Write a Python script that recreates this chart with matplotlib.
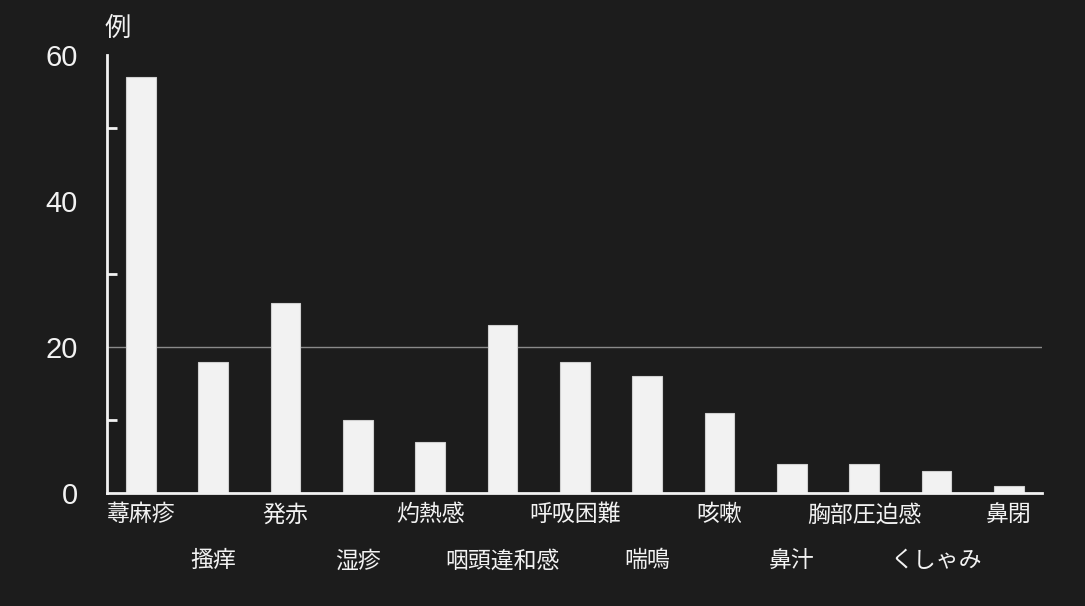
import matplotlib.pyplot as plt

plt.rcParams['font.family'] = ['Noto Sans CJK JP', 'DejaVu Sans']

symptoms = ["蕁麻疹", "搔痒", "発赤", "湿疹", "灼熱感", "咽頭違和感", "呼吸困難",
            "喘鳴", "咳嗽", "鼻汁", "胸部圧迫感", "くしゃみ", "鼻閉"]
cases = [57, 18, 26, 10, 7, 23, 18, 16, 11, 4, 4, 3, 1]
y_ticks = [0, 20, 40, 60]
y_minor = [10, 30, 50]

bg = "#1c1c1c"
fg = "#f2f2f2"

fig = plt.figure(figsize=(10.85, 6.06), dpi=100, facecolor=bg)
ax = fig.add_axes([0.0986, 0.1865, 0.862, 0.7225], facecolor=bg)

x = list(range(len(symptoms)))
ax.axhline(20, color="#8a8a8a", lw=1.0, zorder=1)
ax.bar(x, cases, width=0.41, color=fg, edgecolor="#d0d0d0", lw=0.8, zorder=2)

ax.set_xlim(-0.47, len(symptoms) - 0.54)
ax.set_ylim(0, 60)

for s in ["top", "right"]:
    ax.spines[s].set_visible(False)
for s in ["left", "bottom"]:
    ax.spines[s].set_color(fg)
    ax.spines[s].set_linewidth(2)

ax.set_yticks(y_ticks)
ax.set_yticklabels([str(v) for v in y_ticks], fontsize=21, color=fg, family="Liberation Sans")
ax.set_yticks(y_minor, minor=True)
ax.tick_params(axis="y", which="both", direction="in", length=7, width=2, color=fg, pad=21)
ax.tick_params(axis="y", which="major", length=0)

ax.set_xticks([])
for i, name in enumerate(symptoms):
    yoff = -0.05 if i % 2 == 0 else -0.155
    ax.text(i, yoff, name, transform=ax.get_xaxis_transform(), ha="center", va="center",
            fontsize=16.5, color=fg)

ax.text(0.012, 1.06, "例", transform=ax.transAxes, ha="center", va="center",
        fontsize=19, color=fg)

plt.savefig("out.png", dpi=100, facecolor=bg)
